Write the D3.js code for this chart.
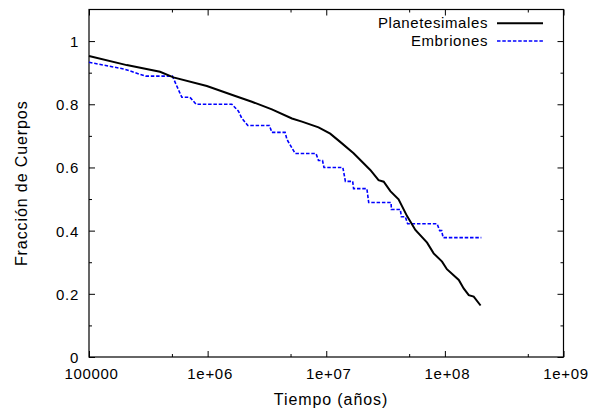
<!DOCTYPE html>
<html><head><meta charset="utf-8">
<script src="https://cdn.jsdelivr.net/npm/d3@7"></script>
<style>body{margin:0;background:#fff}svg{display:block}text{font-family:"Liberation Sans",Arial,sans-serif;fill:#000}</style>
</head><body>
<script>
const seriesNames = ["Planetesimales", "Embriones"];
const planetTime = [1e5,2.08e5,3.97e5,5.15e5,9.85e5,1.71e6,2.36e6,3.48e6,5.14e6,6.24e6,8.61e6,1.08e7,1.31e7,1.70e7,2.35e7,2.76e7,3.05e7,3.47e7,4.07e7,4.80e7,5.64e7,7.08e7,8.04e7,9.47e7,1.04e8,1.31e8,1.44e8,1.59e8,1.75e8,2.0e8];
const planetFrac = [0.9525,0.924,0.903,0.885,0.858,0.826,0.808,0.784,0.755,0.745,0.727,0.707,0.681,0.645,0.592,0.560,0.555,0.525,0.499,0.446,0.402,0.362,0.328,0.302,0.278,0.244,0.217,0.196,0.191,0.163];
const embTime = [1e5,2.0e5,3.0e5,5.05e5,6.06e5,7.1e5,8.0e5,1.6e6,1.82e6,1.94e6,2.18e6,3.32e6,3.48e6,4.5e6,4.66e6,5.47e6,8.2e6,8.6e6,9.3e6,9.57e6,1.38e7,1.45e7,1.67e7,1.70e7,2.2e7,2.28e7,3.52e7,3.54e7,4.21e7,4.3e7,4.64e7,4.85e7,8.6e7,9.04e7,9.4e7,9.66e7,2.03e8];
const embFrac = [0.933,0.911,0.889,0.889,0.822,0.822,0.8,0.8,0.778,0.756,0.733,0.733,0.711,0.711,0.689,0.644,0.644,0.622,0.622,0.6,0.6,0.556,0.556,0.533,0.533,0.489,0.489,0.467,0.467,0.444,0.444,0.422,0.422,0.4,0.4,0.378,0.378];
const xTickVals = [1e5,1e6,1e7,1e8,1e9];
const xTickLabels = ["100000","1e+06","1e+07","1e+08","1e+09"];
const xMinorVals = [5e5,5e6,5e7,5e8];
const yTickVals = [0,0.2,0.4,0.6,0.8,1];
const yTickLabels = ["0","0.2","0.4","0.6","0.8","1"];
const yMinorVals = [0.1,0.3,0.5,0.7,0.9];

const W=591,H=409;
const m={l:89,r:591-563.5,t:9.5,b:409-357};
const svg=d3.select("body").append("svg").attr("width",W).attr("height",H);
const x=d3.scaleLog().domain([1e5,1e9]).range([m.l,W-m.r]);
const y=d3.scaleLinear().domain([0,1.1]).range([H-m.b,m.t]);

const g=svg.append("g");
function ax(gen,tr,vals,fmt,size){
  const a=g.append("g").attr("transform",tr).call(gen.tickValues(vals).tickFormat(fmt).tickSizeInner(size).tickSizeOuter(0).tickPadding(6));
  a.select(".domain").remove();
  a.selectAll("line").attr("stroke","#000");
  a.selectAll("text").style("font-size","15px").style("letter-spacing","0.7px").style("font-family",'"Liberation Sans",Arial,sans-serif');
  return a;
}
ax(d3.axisBottom(x),`translate(0,${H-m.b})`,xTickVals,(d,i)=>xTickLabels[i],-6).selectAll("text").attr("dy",0).attr("y",22).attr("dx","2px");
ax(d3.axisBottom(x),`translate(0,${H-m.b})`,xMinorVals,()=>"",-3);
ax(d3.axisTop(x),`translate(0,${m.t})`,xTickVals,()=>"",-6);
ax(d3.axisTop(x),`translate(0,${m.t})`,xMinorVals,()=>"",-3);
ax(d3.axisLeft(y),`translate(${m.l},0)`,yTickVals,(d,i)=>yTickLabels[i],-6).selectAll("text").attr("x",-10).attr("dy","0.36em");
ax(d3.axisLeft(y),`translate(${m.l},0)`,yMinorVals,()=>"",-3);
ax(d3.axisRight(y),`translate(${W-m.r},0)`,yTickVals,()=>"",-6);
ax(d3.axisRight(y),`translate(${W-m.r},0)`,yMinorVals,()=>"",-3);

g.append("rect").attr("x",m.l).attr("y",m.t).attr("width",W-m.r-m.l).attr("height",H-m.b-m.t)
 .attr("fill","none").attr("stroke","#000").attr("stroke-width",1.2);

const line=d3.line().x(d=>x(d[0])).y(d=>y(d[1]));
const pData=planetTime.map((t,i)=>[t,planetFrac[i]]);
const eData=embTime.map((t,i)=>[t,embFrac[i]]);
g.append("path").datum(eData).attr("d",line).attr("fill","none").attr("stroke","#0000ff").attr("stroke-width",1.6).attr("stroke-dasharray","3.5,1.8");
g.append("path").datum(pData).attr("d",line).attr("fill","none").attr("stroke","#000").attr("stroke-width",2);

// legend
const leg=[{name:seriesNames[0],color:"#000",dash:null,w:2,yy:23.3},{name:seriesNames[1],color:"#0000ff",dash:"3.5,1.8",w:1.6,yy:41}];
leg.forEach(d=>{
  g.append("text").attr("x",488).attr("y",d.yy+5).attr("text-anchor","end").style("font-size","15px").style("letter-spacing","0.6px").text(d.name);
  g.append("line").attr("x1",497).attr("x2",543).attr("y1",d.yy).attr("y2",d.yy).attr("stroke",d.color).attr("stroke-width",d.w).attr("stroke-dasharray",d.dash);
});

svg.append("text").attr("x",331).attr("y",405).attr("text-anchor","middle").style("font-size","16px").style("letter-spacing","0.9px").text("Tiempo (años)");
svg.append("text").attr("transform",`translate(27,${(m.t+H-m.b)/2}) rotate(-90)`).attr("text-anchor","middle").style("font-size","16px").style("letter-spacing","0.9px").text("Fracción de Cuerpos");
</script>
</body></html>
